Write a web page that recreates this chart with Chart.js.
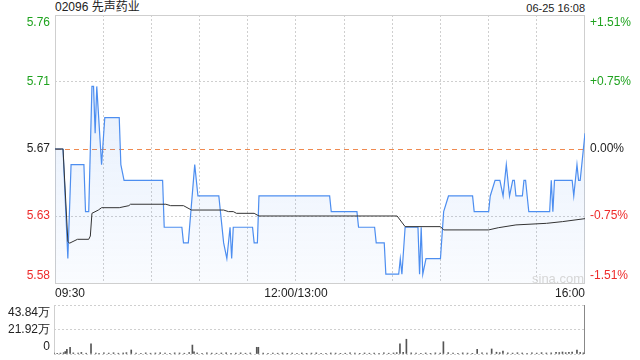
<!DOCTYPE html>
<html>
<head>
<meta charset="utf-8">
<script src="https://cdn.jsdelivr.net/npm/chart.js@4.4.0/dist/chart.umd.min.js"></script>
<style>
    body { margin: 0; width: 640px; height: 360px; background: #fff; position: relative; overflow: hidden;
           font-family: 'Liberation Sans', Arial, 'Noto Sans CJK SC', sans-serif; }
    #title { position: absolute; left: 55px; top: 0px; font-size: 12px; line-height: 15px; color: #222; }
    #stamp { position: absolute; right: 55px; top: 1px; font-size: 11px; line-height: 14px; color: #222; }
    #mark { position: absolute; left: 532px; top: 271px; font-size: 13px; color: #d6d6d6; }
    #priceBox { position: absolute; left: 0; top: 0; width: 640px; height: 300px; }
    #volBox { position: absolute; left: 0; top: 290px; width: 640px; height: 70px; }
</style>
</head>
<body>
<div id="title">02096 先声药业</div>
<div id="stamp">06-25 16:08</div>
<div id="priceBox"><canvas id="priceChart"></canvas></div>
<div id="volBox"><canvas id="volChart"></canvas></div>
<div id="mark">sina.com</div>
<script>
// previous close and axis range (+/-1.51%)
const preClose = 5.67;
const rangePct = 0.0151;

const leftLabels = ['5.58', '5.63', '5.67', '5.71', '5.76'];
const rightLabels = ['-1.51%', '-0.75%', '0.00%', '+0.75%', '+1.51%'];
const timeTicks = [0, 150, 330];
const timeLabels = ['09:30', '12:00/13:00', '16:00'];

// minutes since 09:30 (lunch break removed)
const priceMinutes = [0, 5, 8, 10, 18, 19, 21, 23, 24, 25, 26, 29, 31, 40, 41, 43, 67, 68, 79, 80,
    83, 87, 89, 102, 105, 107, 109, 110, 111, 123, 124, 126, 127, 171, 172, 188, 189, 199, 200, 205,
    206, 214, 215, 216, 218, 226, 227, 228, 229, 231, 240, 242, 245, 260, 261, 270, 271, 274, 277, 279,
    281, 283, 285, 286, 287, 291, 292, 293, 294, 295, 308, 309, 310, 311, 322, 323, 325, 326, 327, 330];
const prices = [5.67, 5.67, 5.60, 5.66, 5.66, 5.63, 5.63, 5.71, 5.71, 5.68, 5.71, 5.66, 5.69, 5.69, 5.66, 5.65, 5.65, 5.62, 5.62, 5.61,
    5.61, 5.66, 5.64, 5.64, 5.61, 5.60, 5.62, 5.60, 5.62, 5.62, 5.61, 5.61, 5.64, 5.64, 5.63, 5.63, 5.62, 5.62, 5.61, 5.61,
    5.59, 5.59, 5.60, 5.59, 5.62, 5.62, 5.59, 5.62, 5.59, 5.60, 5.60, 5.63, 5.64, 5.64, 5.63, 5.63, 5.64, 5.65, 5.65, 5.64,
    5.66, 5.64, 5.65, 5.65, 5.64, 5.64, 5.65, 5.65, 5.64, 5.63, 5.63, 5.65, 5.63, 5.65, 5.65, 5.64, 5.66, 5.65, 5.65, 5.68];

const avgMinutes = [0, 5, 8, 9, 14, 21, 22, 23, 27, 29, 40, 46, 47, 69, 72, 80, 85, 105, 108, 111,
    113, 124, 127, 213, 218, 240, 242, 270, 276, 287, 306, 316, 330];
const avgPrices = [5.67, 5.67, 5.611, 5.6098, 5.6123, 5.6123, 5.6144, 5.6289, 5.631, 5.6325, 5.6325, 5.6338, 5.6347, 5.6347, 5.6338, 5.6338, 5.631, 5.631, 5.630, 5.630,
    5.6289, 5.6289, 5.6272, 5.6272, 5.6204, 5.6204, 5.6183, 5.6183, 5.6197, 5.6215, 5.6225, 5.6236, 5.6255];

// volume in 万 shares
const volMax = 43.84;
const volLabels = ['0', '21.92万', '43.84万'];
const volMinutes = [0, 2, 4, 6, 7, 8, 10, 12, 15, 17, 20, 23, 26, 28, 31, 34, 37, 40, 43, 45,
    48, 51, 54, 57, 60, 63, 66, 69, 72, 75, 78, 81, 84, 86, 87, 89, 92, 95, 98, 101,
    104, 107, 110, 113, 116, 119, 122, 126, 127, 130, 133, 136, 139, 142, 145, 148, 151, 154, 157, 160,
    163, 166, 169, 172, 175, 178, 181, 184, 187, 190, 193, 196, 199, 202, 205, 208, 211, 213, 215, 217,
    219, 222, 225, 228, 231, 234, 237, 240, 242, 245, 248, 251, 254, 257, 260, 263, 266, 269, 272, 275,
    277, 279, 282, 285, 288, 291, 294, 297, 300, 303, 306, 309, 312, 314, 316, 318, 320, 322, 325, 327, 329];
const volumes = [0.9, 0.6, 0.8, 1.2, 2.2, 4.2, 6.0, 1.0, 0.8, 1.4, 0.7, 9.0, 0.9, 0.6, 1.0, 0.8, 1.1, 0.7, 0.9, 1.2,
    3.6, 0.8, 0.6, 1.0, 0.7, 0.9, 1.1, 0.8, 0.6, 1.0, 0.9, 0.7, 1.2, 8.0, 2.0, 0.9, 0.6, 1.0, 0.8, 0.7,
    0.9, 1.1, 0.6, 0.8, 1.0, 0.7, 0.9, 6.0, 6.0, 0.8, 0.6, 0.9, 0.7, 1.0, 0.6, 0.8, 0.7, 0.9, 0.6, 0.8,
    1.0, 0.7, 0.6, 0.9, 0.8, 0.6, 0.7, 1.0, 0.8, 0.6, 0.9, 0.7, 0.8, 0.6, 1.0, 0.7, 0.9, 1.2, 9.0, 1.5,
    13.2, 1.0, 0.8, 0.7, 0.9, 0.6, 1.0, 0.8, 11.0, 1.2, 0.9, 0.7, 1.0, 0.8, 0.6, 4.2, 1.0, 0.8, 4.5, 1.6,
    1.2, 2.7, 1.0, 0.8, 1.1, 0.9, 0.7, 1.0, 0.8, 1.2, 0.9, 1.0, 1.6, 1.3, 1.8, 1.2, 1.5, 1.8, 3.6, 1.4, 1.0];

const GREEN = '#1fa31f';
const RED = '#ee2b2b';
const DARK = '#222';
const GRID = '#cfcfcf';
const ORANGE = '#f08a50';

Chart.defaults.font.family = "'Liberation Sans', Arial, sans-serif";
Chart.defaults.font.size = 12;
Chart.defaults.animation = false;

const yMin = preClose * (1 - rangePct);
const yMax = preClose * (1 + rangePct);

function fiveTicks(scale) {
    scale.ticks = [0, 1, 2, 3, 4].map(i => ({ value: yMin + i * (yMax - yMin) / 4 }));
}

// fixed axis width, and no extra room asked for the edge labels
function fixWidth(w) {
    return (scale) => {
        scale.width = w;
        scale.paddingTop = 0;
        scale.paddingBottom = 0;
    };
}

// push the top label down and the bottom label up, like the original
function edgeLabel(text, index, last) {
    if (index === last) return ['', text];
    if (index === 0) return [text, ''];
    return text;
}

function tickColor(ctx) {
    if (ctx.index > 2) return GREEN;
    if (ctx.index < 2) return RED;
    return DARK;
}

const framePlugin = {
    id: 'frame',
    beforeDatasetsDraw(chart, args, opts) {
        const a = chart.chartArea;
        const ctx = chart.ctx;
        ctx.save();
        ctx.lineWidth = 1;
        ctx.strokeStyle = opts.color || GRID;
        if (opts.box) {
            ctx.strokeRect(Math.round(a.left) + 0.5, Math.round(a.top) + 0.5,
                Math.round(a.right - a.left) - 1, Math.round(a.bottom - a.top));
            // previous close line
            if (opts.refValue) {
                const y = Math.round(chart.scales.y.getPixelForValue(opts.refValue)) + 0.5;
                ctx.strokeStyle = ORANGE;
                ctx.setLineDash([5, 4]);
                ctx.beginPath();
                ctx.moveTo(a.left + 1, y);
                ctx.lineTo(a.right - 1, y);
                ctx.stroke();
            }
        } else {
            ctx.beginPath();
            ctx.moveTo(Math.round(a.left) + 0.5, a.top);
            ctx.lineTo(Math.round(a.left) + 0.5, a.bottom);
            ctx.stroke();
            ctx.strokeStyle = opts.rightColor || GRID;
            ctx.beginPath();
            ctx.moveTo(Math.round(a.right) - 0.5, a.top);
            ctx.lineTo(Math.round(a.right) - 0.5, a.bottom);
            ctx.stroke();
        }
        ctx.restore();
    }
};

function initPriceChart() {
    const ctx = document.getElementById('priceChart').getContext('2d');
    new Chart(ctx, {
        type: 'line',
        data: {
            datasets: [{
                label: '均价',
                data: avgMinutes.map((m, i) => ({ x: m, y: avgPrices[i] })),
                borderColor: '#333',
                borderWidth: 1,
                pointRadius: 0,
                fill: false,
                tension: 0
            }, {
                label: '价格',
                data: priceMinutes.map((m, i) => ({ x: m, y: prices[i] })),
                borderColor: '#4d8ef0',
                borderWidth: 1.2,
                pointRadius: 0,
                tension: 0,
                fill: 'start',
                backgroundColor: (c) => {
                    const area = c.chart.chartArea;
                    if (!area) return 'rgba(77,142,240,0.1)';
                    const g = c.chart.ctx.createLinearGradient(0, area.top, 0, area.bottom);
                    g.addColorStop(0, 'rgba(77,142,240,0.17)');
                    g.addColorStop(1, 'rgba(77,142,240,0.03)');
                    return g;
                }
            }]
        },
        options: {
            responsive: true,
            maintainAspectRatio: false,
            layout: { padding: { top: 15, left: 0, right: 0, bottom: 0 } },
            scales: {
                x: {
                    type: 'linear',
                    min: 0,
                    max: 330,
                    afterBuildTicks: (scale) => {
                        const list = [];
                        for (let m = 0; m <= 330; m += 30) list.push({ value: m });
                        scale.ticks = list;
                    },
                    afterFit: (scale) => {
                        scale.height = 17;
                        scale.paddingLeft = 0;
                        scale.paddingRight = 0;
                    },
                    ticks: {
                        autoSkip: false,
                        maxRotation: 0,
                        align: 'inner',
                        padding: 3,
                        color: DARK,
                        callback: (v) => {
                            const k = timeTicks.indexOf(v);
                            return k >= 0 ? timeLabels[k] : '';
                        }
                    },
                    grid: {
                        drawTicks: false,
                        color: (c) => (c.index === 0 || c.index === 11) ? 'rgba(0,0,0,0)' : GRID
                    },
                    border: { display: false, dash: [2, 2] }
                },
                y: {
                    position: 'left',
                    min: yMin,
                    max: yMax,
                    afterBuildTicks: fiveTicks,
                    afterFit: fixWidth(55),
                    ticks: {
                        autoSkip: false,
                        padding: 5,
                        color: tickColor,
                        callback: (v, i) => edgeLabel(leftLabels[i], i, 4)
                    },
                    grid: {
                        drawTicks: false,
                        color: (c) => (c.index === 1 || c.index === 3) ? GRID : 'rgba(0,0,0,0)'
                    },
                    border: { display: false, dash: [2, 2] }
                },
                y1: {
                    position: 'right',
                    min: yMin,
                    max: yMax,
                    afterBuildTicks: fiveTicks,
                    afterFit: fixWidth(55),
                    ticks: {
                        autoSkip: false,
                        padding: 5,
                        color: tickColor,
                        callback: (v, i) => edgeLabel(rightLabels[i], i, 4)
                    },
                    grid: { display: false, drawTicks: false },
                    border: { display: false }
                }
            },
            plugins: {
                legend: { display: false },
                tooltip: { enabled: false },
                frame: { box: true, color: GRID, refValue: preClose }
            }
        },
        plugins: [framePlugin]
    });
}

function initVolChart() {
    const ctx = document.getElementById('volChart').getContext('2d');
    new Chart(ctx, {
        type: 'bar',
        data: {
            datasets: [{
                label: '成交量',
                data: volMinutes.map((m, i) => ({ x: m, y: volumes[i] })),
                backgroundColor: '#555',
                barThickness: 1,
                borderWidth: 0
            }]
        },
        options: {
            responsive: true,
            maintainAspectRatio: false,
            layout: { padding: { top: 15, left: 0, right: 55, bottom: 6 } },
            scales: {
                x: {
                    type: 'linear',
                    min: 0,
                    max: 330,
                    offset: false,
                    display: false
                },
                y: {
                    min: 0,
                    max: volMax,
                    afterBuildTicks: (scale) => {
                        scale.ticks = [0, 1, 2].map(i => ({ value: i * volMax / 2 }));
                    },
                    afterFit: fixWidth(54),
                    ticks: {
                        autoSkip: false,
                        padding: 4,
                        color: DARK,
                        callback: (v, i) => edgeLabel(volLabels[i], i, 2)
                    },
                    grid: { drawTicks: false, color: GRID },
                    border: { display: false, dash: [2, 2] }
                }
            },
            plugins: {
                legend: { display: false },
                tooltip: { enabled: false },
                frame: { box: false, color: GRID, rightColor: '#888' }
            }
        },
        plugins: [framePlugin]
    });
}

initPriceChart();
initVolChart();
</script>
</body>
</html>
